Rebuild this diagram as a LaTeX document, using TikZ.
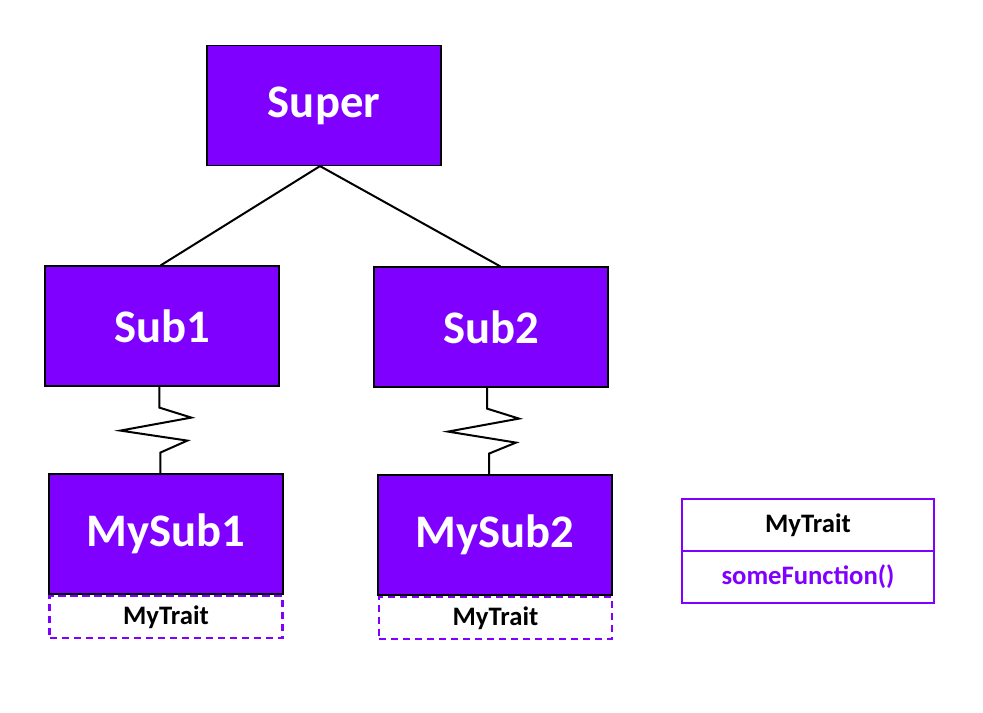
\documentclass[tikz,border=0pt]{standalone}
\usepackage{fontspec}
\setmainfont{Carlito}
\definecolor{vio}{HTML}{7F00FF}
\begin{document}
\begin{tikzpicture}[x=0.75pt,y=-0.75pt,
  cls/.style={draw=black,line width=0.9pt,fill=vio,text=white,minimum width=175.5pt,minimum height=90pt,inner sep=0pt,font=\fontsize{35}{40}\selectfont\bfseries},
  traitbox/.style={draw=vio,line width=2.2pt,dash pattern=on 5.5pt off 3.5pt,minimum width=174.75pt,minimum height=31.5pt,inner sep=0pt,font=\fontsize{20}{24}\selectfont\bfseries},
  umlpart/.style={draw=vio,line width=2.2pt,minimum width=189pt,minimum height=39pt,inner sep=0pt,font=\fontsize{20}{24}\selectfont\bfseries},
  conn/.style={draw=black,line width=1.5pt}]
\useasboundingbox (0,0) rectangle (983,713);
\node[cls] (super) at (324,105.5) {Super};
\node[cls] (sub1) at (162,326) {Sub1};
\node[cls] (sub2) at (491,327) {Sub2};
\node[cls] (mysub1) at (166,534) {MySub1};
\node[cls] (mysub2) at (495,535) {MySub2};
\node[traitbox] (t1) at (166,617) {MyTrait};
\node[traitbox] (t2) at (495.5,618) {MyTrait};
\node[umlpart] (th) at (808,525) {MyTrait};
\node[umlpart,text=vio] (tm) at (808,577) {someFunction()};
\draw[conn] ([xshift=-3]super.south) -- ([xshift=-1]sub1.north);
\draw[conn] ([xshift=-3]super.south) -- ([xshift=7]sub2.north);
\draw[conn,line join=miter] ([xshift=-2]sub1.south) -- ++(0,21) -- ++(32,10) -- ++(-71,13) -- ++(67,10) -- ++(-27,12) coordinate (z1) -- (z1 |- mysub1.north);
\draw[conn,line join=miter] ([xshift=-3]sub2.south) -- ++(0,21) -- ++(32,10) -- ++(-71,13) -- ++(68,11) -- ++(-27,11) coordinate (z2) -- (z2 |- mysub2.north);
\end{tikzpicture}
\end{document}
